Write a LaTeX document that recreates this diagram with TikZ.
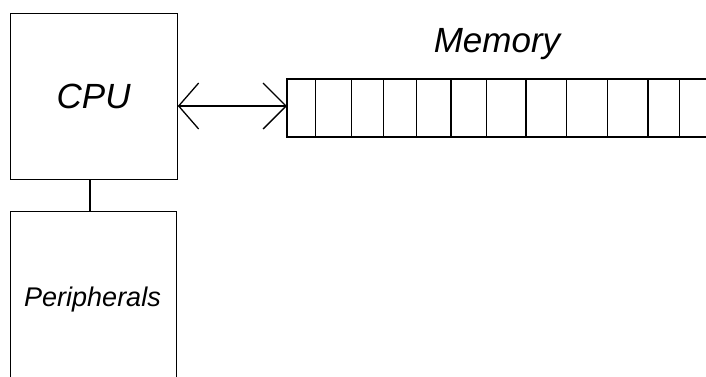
\documentclass[tikz,border=0pt]{standalone}
\usepackage{fontspec}
\setmainfont{Liberation Sans}
\usetikzlibrary{arrows.meta}
\begin{document}
\begin{tikzpicture}[x=1pt,y=-1pt,
  line/.style={line width=1.3pt,draw=black},
  bigtext/.style={font=\fontsize{35}{40}\selectfont\itshape,inner sep=0pt},
  smalltext/.style={font=\fontsize{27}{32}\selectfont\itshape,inner sep=0pt},
  barb/.style={line width=1.3pt,{Straight Barb[length=20pt,width=46pt]}-{Straight Barb[length=23pt,width=46pt]}}]
\useasboundingbox (0,0) rectangle (706,376);
% CPU box
\node[line,rectangle,minimum width=167pt,minimum height=166pt,inner sep=0pt,anchor=north west] (cpu) at (9.5,12.5) {};
\node[bigtext] (cputext) at (cpu.center) {CPU};
% Memory
\coordinate (mtl) at (287,79);
\coordinate (mbl) at (287,137);
\coordinate (mtr) at (706,79);
\coordinate (mbr) at (706,137);
\draw[line] (mtr) -- (mtl) -- (mbl) -- (mbr);
\foreach \x in {315.7,351.7,383.3,416.3,451,486.8,526,566.3,607.3,648,679.3}
  \draw[line] (\x,79) -- (\x,137);
\node[bigtext,anchor=base] (memtext) at (497,52) {Memory};
% Arrow
\coordinate (cpuport) at (cpu.east |- 0,106);
\draw[barb] (cpuport) -- (mtl |- 0,106);
% Peripherals
\coordinate (ptl) at (10.7,211.7);
\coordinate (ptr) at (176.7,211.7);
\coordinate (pbl) at (10.7,380);
\coordinate (pbr) at (176.7,380);
\draw[line] (pbl) -- (ptl) -- (ptr) -- (pbr);
\node[smalltext,anchor=base] (ptext) at (92.5,306.5) {Peripherals};
\coordinate (ptop) at (90,211.7);
\draw[line] (cpu.south -| ptop) -- (ptop);
\end{tikzpicture}
\end{document}
